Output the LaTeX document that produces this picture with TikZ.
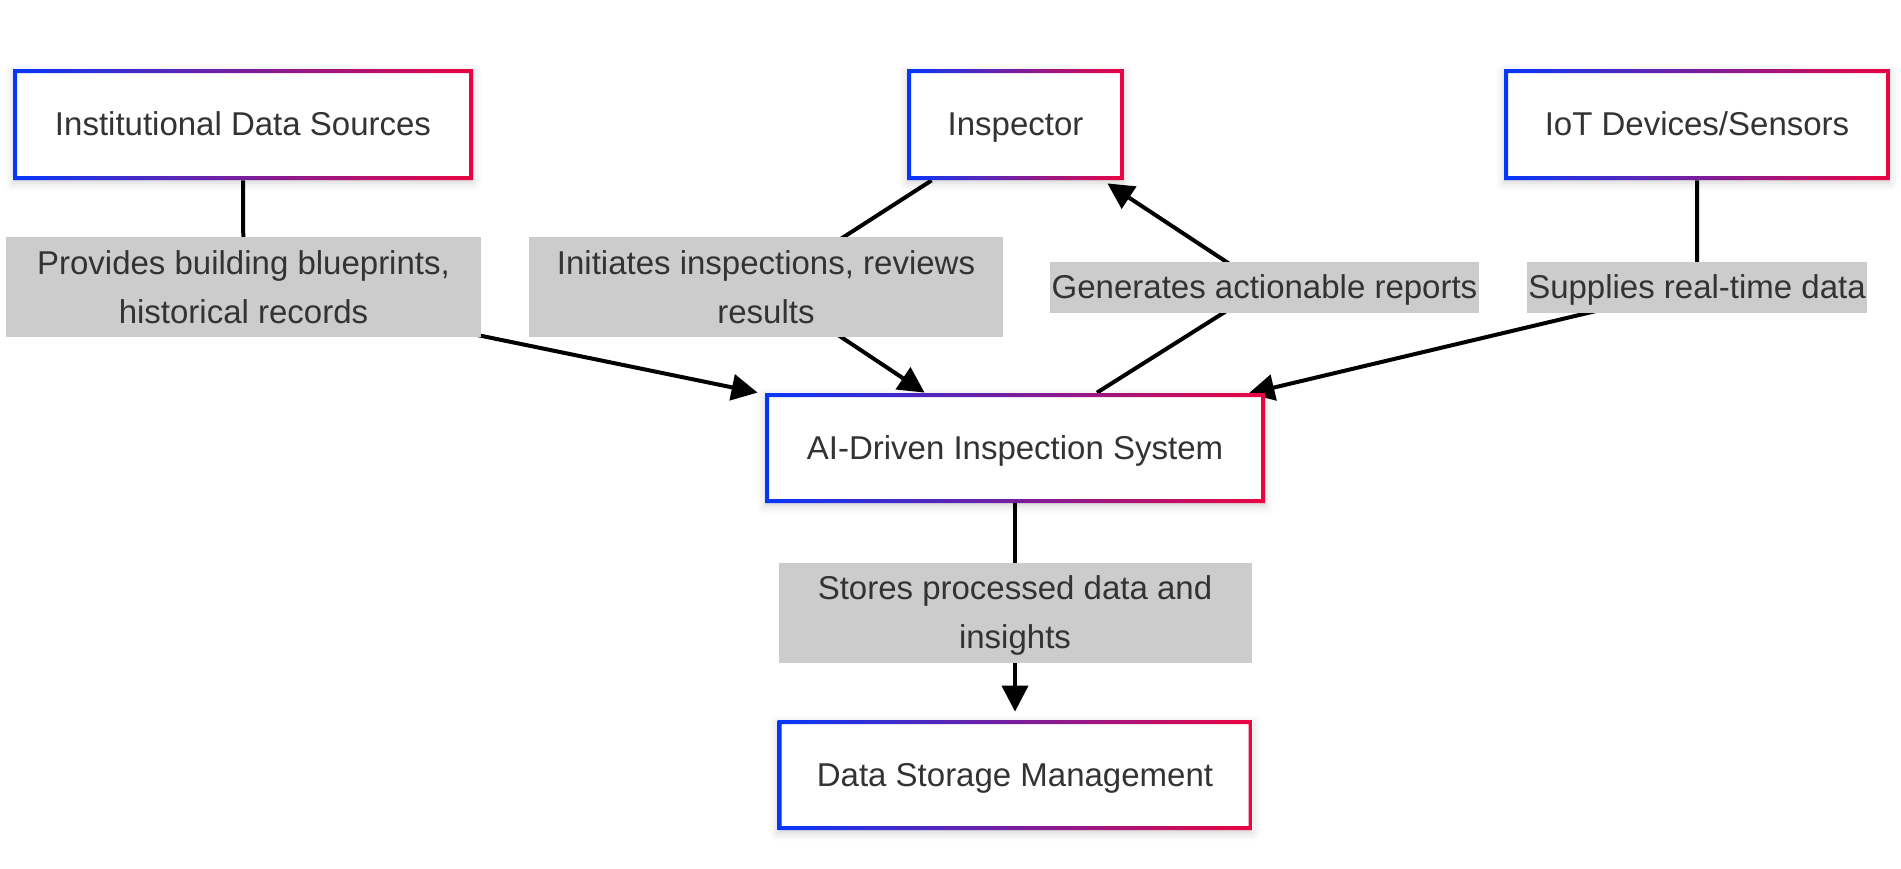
\documentclass[tikz,border=0pt]{standalone}
\usepackage{fontspec}
\setmainfont{Liberation Sans}
\usetikzlibrary{arrows.meta,calc,backgrounds,shadows.blur}
\definecolor{gblue}{RGB}{5,55,250}
\definecolor{gred}{RGB}{235,5,65}
\definecolor{txt}{RGB}{51,51,51}
\definecolor{lblgray}{RGB}{204,204,204}
\tikzset{
  gbox/.style={rectangle, fill=white, inner sep=0pt, minimum height=55pt, text=txt,
    font=\fontsize{16.5pt}{24.5pt}\selectfont, text height=14.5pt, text depth=3.3pt,
    blur shadow={shadow xshift=0pt, shadow yshift=-1.5pt, shadow blur radius=4pt, shadow opacity=18},
    path picture={\shade[left color=gblue, right color=gred, even odd rule]
      (path picture bounding box.south west) rectangle (path picture bounding box.north east)
      ([shift={(2pt,2pt)}]path picture bounding box.south west) rectangle ([shift={(-2pt,-2pt)}]path picture bounding box.north east);}},
  lbl/.style={rectangle, fill=lblgray, inner sep=0pt, text=txt, align=center,
    font=\fontsize{16.5pt}{24.5pt}\selectfont},
  lblone/.style={lbl, text height=14.5pt, text depth=3.3pt, minimum height=25.5pt},
  lbltwo/.style={lbl, text depth=0pt, minimum height=50pt},
  conn/.style={line width=2pt, black},
  arr/.style={conn, -{Triangle[length=13pt,width=13pt]}},
}
\begin{document}
\begin{tikzpicture}[x=0.5pt,y=-0.5pt]
\useasboundingbox (0,0) rectangle (1901,868);
% boxes
\node[gbox, minimum width=230pt, minimum height=55.5pt] (inst) at (243,124.5) {Institutional Data Sources};
\node[gbox, minimum width=108.5pt, minimum height=55.5pt] (insp) at (1015.5,124.5) {Inspector};
\node[gbox, minimum width=193pt, minimum height=55.5pt] (iot) at (1697,124.5) {IoT Devices/Sensors};
\node[gbox, minimum width=250pt, minimum height=55pt] (ai) at (1015,448) {AI-Driven Inspection System};
\node[gbox, minimum width=237.5pt, minimum height=55pt] (data) at (1015,775) {Data Storage Management};
% labels
\node[lbltwo, minimum width=237.5pt] (l1) at (243.5,287) {Provides building blueprints,\\historical records};
\node[lbltwo, minimum width=237pt] (l2) at (766,287) {Initiates inspections, reviews\\results};
\node[lblone, minimum width=214.5pt] (l3) at (1264.5,287) {Generates actionable reports};
\node[lblone, minimum width=170pt] (l4) at (1697,287) {Supplies real-time data};
\node[lbltwo, minimum width=236.5pt] (l5) at (1015,612.5) {Stores processed data and\\insights};
% connectors
\begin{pgfonlayer}{background}
\draw[arr] (inst.south) -- (l1.center) -- ($(ai.north west)+(-7,0)$);
\draw[arr] ($(insp.south west)+(25,0)$) -- (l2.center) -- ($(ai.north west)+(160,0)$);
\draw[arr] ($(ai.north)+(82,0)$) -- (l3.center) -- ($(insp.south east)+(-17,3)$);
\draw[arr] (iot.south) -- (l4.center) -- ($(ai.north east)+(-17,1)$);
\draw[arr] (ai.south) -- (l5.center) -- ($(data.north)+(0,-8)$);
\end{pgfonlayer}
\end{tikzpicture}
\end{document}
